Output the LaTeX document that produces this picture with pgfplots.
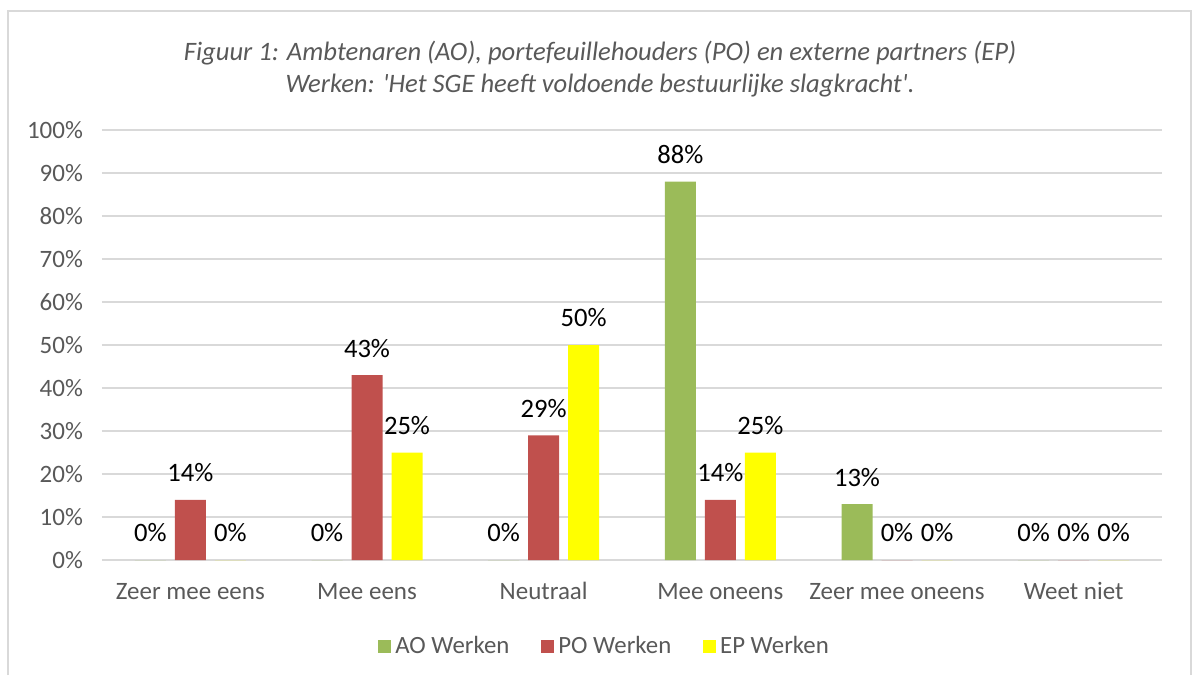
\documentclass[border=0pt]{standalone}
\usepackage{pgfplots}
\pgfplotsset{compat=1.18}
\usepackage{fontspec}
\setmainfont{Carlito}
\definecolor{aogreen}{HTML}{9BBB59}
\definecolor{pored}{HTML}{C0504D}
\definecolor{epyellow}{HTML}{FFFF00}
\definecolor{txtgrey}{HTML}{595959}
\definecolor{gridgrey}{HTML}{D9D9D9}
\begin{document}
\begin{tikzpicture}
% canvas: 1px = 0.5pt, 1192x675 px
\useasboundingbox (0,0) rectangle (596pt,337.5pt);
\draw[gridgrey, line width=0.75pt] (4pt,0pt) -- (4pt,332pt) -- (595.5pt,332pt) -- (595.5pt,0pt);
\node[align=center, text=txtgrey, font=\fontsize{13.3}{16}\selectfont\itshape] at (300pt,303pt)
  {Figuur 1: Ambtenaren (AO), portefeuillehouders (PO) en externe partners (EP)\\
   Werken: \textquotesingle Het SGE heeft voldoende bestuurlijke slagkracht\textquotesingle.};
\begin{axis}[
  at={(51pt,57.5pt)}, anchor=south west,
  scale only axis, width=530pt, height=215pt,
  ymin=0, ymax=100, ytick={0,10,...,100},
  xmin=-0.5, xmax=5.5,
  xtick={0,1,2,3,4,5},
  xticklabels={Zeer mee eens, Mee eens, Neutraal, Mee oneens, Zeer mee oneens, Weet niet},
  yticklabel={\pgfmathprintnumber{\tick}\%},
  ymajorgrids, grid style={gridgrey, line width=0.75pt},
  axis x line*=bottom, axis y line*=left,
  x axis line style={gridgrey, line width=0.75pt, -},
  y axis line style={draw=none},
  major tick length=0pt,
  tick label style={text=txtgrey, font=\fontsize{12.5}{14}\selectfont},
  yticklabel style={xshift=-6pt},
  xticklabel style={anchor=base, yshift=-19.5pt},
  /pgf/number format/assume math mode=true,
  ybar, bar width=15.5pt,
  nodes near coords={\pgfmathprintnumber{\pgfplotspointmeta}\%},
  every node near coord/.append style={font=\fontsize{13.3}{15}\selectfont, text=black, anchor=center, yshift=13.5pt},
  legend style={at={(0.475,-0.2)}, anchor=center, draw=none, legend columns=-1,
    font=\fontsize{12.4}{14}\selectfont, text=txtgrey,
    /tikz/every even column/.append style={column sep=14pt}},
  legend image code/.code={\fill[#1] (0pt,-3.25pt) rectangle (6.5pt,3.25pt);},
  clip=false,
]
\addplot[fill=aogreen, draw=none, bar shift=-20pt] coordinates {(0,0) (1,0) (2,0) (3,88) (4,13) (5,0)};
\addplot[fill=pored, draw=none, bar shift=0pt] coordinates {(0,14) (1,43) (2,29) (3,14) (4,0) (5,0)};
\addplot[fill=epyellow, draw=none, bar shift=20pt] coordinates {(0,0) (1,25) (2,50) (3,25) (4,0) (5,0)};
\legend{AO Werken, PO Werken, EP Werken}
\end{axis}
\end{tikzpicture}
\end{document}
